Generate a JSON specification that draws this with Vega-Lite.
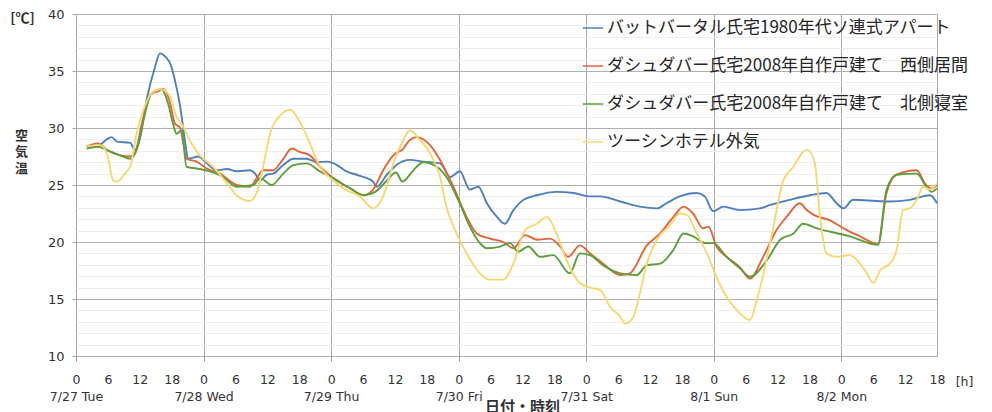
{
  "$schema": "https://vega.github.io/schema/vega-lite/v6.json",
  "width": 861,
  "height": 342,
  "autosize": "none",
  "padding": {"left": 76, "top": 14, "right": 55, "bottom": 56},
  "background": "white",
  "config": {
    "view": {"stroke": "#a8a8a8", "strokeWidth": 1},
    "font": "DejaVu Sans"
  },
  "title": {
    "text": "日付・時刻",
    "orient": "bottom",
    "anchor": "middle",
    "frame": "group",
    "offset": -3,
    "dx": 16,
    "font": "Noto Sans CJK JP",
    "fontSize": 15,
    "fontWeight": "bold",
    "color": "#333333"
  },
  "data": {
    "values": [
      {"s":"B","h":2,"t":28.4},{"s":"B","h":4,"t":28.4},{"s":"B","h":5.8,"t":29.0},{"s":"B","h":6.7,"t":29.2},{"s":"B","h":7.7,"t":28.8},{"s":"B","h":10.2,"t":28.7},{"s":"B","h":11.1,"t":28.1},{"s":"B","h":12,"t":29.0},{"s":"B","h":13.3,"t":32.5},{"s":"B","h":14.9,"t":35.4},{"s":"B","h":15.8,"t":36.55},{"s":"B","h":17.1,"t":36.1},{"s":"B","h":17.7,"t":35.7},{"s":"B","h":18.6,"t":34.2},{"s":"B","h":19.6,"t":31.9},{"s":"B","h":20.5,"t":28.9},{"s":"B","h":21.1,"t":27.3},{"s":"B","h":23,"t":27.5},{"s":"B","h":24.6,"t":26.9},{"s":"B","h":26.5,"t":26.3},{"s":"B","h":28.4,"t":26.4},{"s":"B","h":30.2,"t":26.2},{"s":"B","h":32.7,"t":26.3},{"s":"B","h":33.7,"t":26.0},{"s":"B","h":34.6,"t":25.4},{"s":"B","h":35.9,"t":25.9},{"s":"B","h":37.1,"t":26.0},{"s":"B","h":39,"t":26.75},{"s":"B","h":40.9,"t":27.3},{"s":"B","h":43.4,"t":27.3},{"s":"B","h":45.3,"t":27.0},{"s":"B","h":47.2,"t":27.05},{"s":"B","h":49.1,"t":26.75},{"s":"B","h":50.9,"t":26.2},{"s":"B","h":52.8,"t":25.9},{"s":"B","h":54.7,"t":25.6},{"s":"B","h":55.9,"t":25.3},{"s":"B","h":56.6,"t":24.85},{"s":"B","h":58.5,"t":25.9},{"s":"B","h":60.3,"t":26.75},{"s":"B","h":62.8,"t":27.2},{"s":"B","h":65.3,"t":27.05},{"s":"B","h":68.5,"t":26.9},{"s":"B","h":70.4,"t":25.7},{"s":"B","h":72.2,"t":26.2},{"s":"B","h":74.1,"t":24.6},{"s":"B","h":75.7,"t":24.85},{"s":"B","h":77.3,"t":23.4},{"s":"B","h":79.2,"t":22.2},{"s":"B","h":80.7,"t":21.6},{"s":"B","h":82.3,"t":22.8},{"s":"B","h":84.2,"t":23.7},{"s":"B","h":86.7,"t":24.1},{"s":"B","h":90.4,"t":24.4},{"s":"B","h":93.6,"t":24.3},{"s":"B","h":96.7,"t":24.0},{"s":"B","h":98.6,"t":24.0},{"s":"B","h":102.4,"t":23.55},{"s":"B","h":106.1,"t":23.1},{"s":"B","h":109.3,"t":22.95},{"s":"B","h":111.1,"t":23.4},{"s":"B","h":113.6,"t":24.0},{"s":"B","h":116.8,"t":24.3},{"s":"B","h":118.3,"t":24.0},{"s":"B","h":119.9,"t":22.7},{"s":"B","h":121.8,"t":23.1},{"s":"B","h":124.9,"t":22.8},{"s":"B","h":128.7,"t":22.95},{"s":"B","h":130.6,"t":23.25},{"s":"B","h":134.3,"t":23.7},{"s":"B","h":138.1,"t":24.1},{"s":"B","h":141.2,"t":24.3},{"s":"B","h":143.1,"t":23.4},{"s":"B","h":144.4,"t":22.95},{"s":"B","h":146.2,"t":23.7},{"s":"B","h":150.6,"t":23.6},{"s":"B","h":153.1,"t":23.55},{"s":"B","h":156.9,"t":23.7},{"s":"B","h":160.7,"t":24.1},{"s":"B","h":162,"t":23.4},

      {"s":"O","h":2,"t":28.4},{"s":"O","h":4.2,"t":28.65},{"s":"O","h":5.8,"t":28.07},{"s":"O","h":8.3,"t":27.6},{"s":"O","h":10.2,"t":27.5},{"s":"O","h":11.1,"t":27.8},{"s":"O","h":12.4,"t":30.4},{"s":"O","h":13.9,"t":32.9},{"s":"O","h":15.8,"t":33.3},{"s":"O","h":16.4,"t":33.45},{"s":"O","h":17.7,"t":32.2},{"s":"O","h":18.6,"t":30.4},{"s":"O","h":19.6,"t":30.0},{"s":"O","h":20.8,"t":27.3},{"s":"O","h":22.7,"t":27.05},{"s":"O","h":24.6,"t":26.45},{"s":"O","h":27.1,"t":26.0},{"s":"O","h":30.2,"t":25.0},{"s":"O","h":32.7,"t":24.85},{"s":"O","h":34,"t":25.6},{"s":"O","h":35.2,"t":26.3},{"s":"O","h":37.1,"t":26.3},{"s":"O","h":39,"t":27.3},{"s":"O","h":40.6,"t":28.2},{"s":"O","h":42.1,"t":27.9},{"s":"O","h":44,"t":27.6},{"s":"O","h":45.9,"t":26.6},{"s":"O","h":48.4,"t":25.6},{"s":"O","h":51.6,"t":24.7},{"s":"O","h":54.1,"t":24.1},{"s":"O","h":55.9,"t":24.6},{"s":"O","h":57.8,"t":26.3},{"s":"O","h":59.7,"t":27.6},{"s":"O","h":61.6,"t":28.2},{"s":"O","h":62.8,"t":28.95},{"s":"O","h":64.1,"t":29.2},{"s":"O","h":66.6,"t":28.5},{"s":"O","h":68.5,"t":27.2},{"s":"O","h":71,"t":24.85},{"s":"O","h":73.5,"t":22.2},{"s":"O","h":75.4,"t":20.75},{"s":"O","h":77.9,"t":20.3},{"s":"O","h":80.4,"t":20.0},{"s":"O","h":82.3,"t":19.45},{"s":"O","h":84.5,"t":20.6},{"s":"O","h":86.7,"t":20.2},{"s":"O","h":89.2,"t":20.3},{"s":"O","h":91.1,"t":19.6},{"s":"O","h":92.6,"t":18.7},{"s":"O","h":94.8,"t":19.7},{"s":"O","h":96.7,"t":19.0},{"s":"O","h":99.2,"t":18.1},{"s":"O","h":102.4,"t":17.1},{"s":"O","h":104.2,"t":17.25},{"s":"O","h":107.4,"t":19.7},{"s":"O","h":109.9,"t":20.75},{"s":"O","h":112.4,"t":22.2},{"s":"O","h":114.3,"t":23.1},{"s":"O","h":116.1,"t":22.5},{"s":"O","h":118,"t":21.2},{"s":"O","h":119,"t":21.35},{"s":"O","h":120.5,"t":19.6},{"s":"O","h":122.4,"t":18.7},{"s":"O","h":124.9,"t":17.8},{"s":"O","h":126.8,"t":16.8},{"s":"O","h":129.3,"t":18.7},{"s":"O","h":131.8,"t":21.05},{"s":"O","h":133.7,"t":22.2},{"s":"O","h":136.2,"t":23.4},{"s":"O","h":137.5,"t":22.8},{"s":"O","h":138.7,"t":22.4},{"s":"O","h":141.9,"t":21.9},{"s":"O","h":144.4,"t":21.2},{"s":"O","h":147.5,"t":20.5},{"s":"O","h":150.9,"t":19.8},{"s":"O","h":152.5,"t":24.3},{"s":"O","h":154.4,"t":25.9},{"s":"O","h":158.2,"t":26.3},{"s":"O","h":159.7,"t":25.15},{"s":"O","h":161,"t":24.7},{"s":"O","h":162,"t":25.0},

      {"s":"G","h":2,"t":28.2},{"s":"G","h":4.2,"t":28.36},{"s":"G","h":5.8,"t":28.07},{"s":"G","h":8.3,"t":27.6},{"s":"G","h":10.2,"t":27.3},{"s":"G","h":11.4,"t":28.07},{"s":"G","h":12.7,"t":30.7},{"s":"G","h":14.2,"t":33.05},{"s":"G","h":16.1,"t":33.4},{"s":"G","h":17.3,"t":32.2},{"s":"G","h":18.3,"t":30.3},{"s":"G","h":18.9,"t":29.5},{"s":"G","h":19.9,"t":29.8},{"s":"G","h":20.8,"t":26.6},{"s":"G","h":22.7,"t":26.45},{"s":"G","h":25.2,"t":26.2},{"s":"G","h":27.7,"t":25.7},{"s":"G","h":30.2,"t":24.85},{"s":"G","h":33.4,"t":25.0},{"s":"G","h":34.6,"t":25.6},{"s":"G","h":36.8,"t":25.0},{"s":"G","h":39,"t":26.0},{"s":"G","h":40.9,"t":26.75},{"s":"G","h":43.4,"t":26.9},{"s":"G","h":45.9,"t":26.2},{"s":"G","h":48.4,"t":25.6},{"s":"G","h":51.6,"t":24.7},{"s":"G","h":54.1,"t":24.1},{"s":"G","h":56.3,"t":24.4},{"s":"G","h":58.5,"t":25.4},{"s":"G","h":60.2,"t":26.1},{"s":"G","h":61.4,"t":25.3},{"s":"G","h":63.5,"t":26.3},{"s":"G","h":65.3,"t":27.0},{"s":"G","h":67.9,"t":26.6},{"s":"G","h":69.7,"t":25.7},{"s":"G","h":72.2,"t":23.4},{"s":"G","h":74.1,"t":21.35},{"s":"G","h":76,"t":19.9},{"s":"G","h":77.3,"t":19.45},{"s":"G","h":79.8,"t":19.6},{"s":"G","h":81.7,"t":19.9},{"s":"G","h":83.2,"t":19.15},{"s":"G","h":85.1,"t":19.6},{"s":"G","h":87.3,"t":18.7},{"s":"G","h":89.8,"t":18.85},{"s":"G","h":92.9,"t":17.25},{"s":"G","h":94.8,"t":19.0},{"s":"G","h":96.7,"t":18.85},{"s":"G","h":99.2,"t":17.95},{"s":"G","h":102.4,"t":17.25},{"s":"G","h":105.5,"t":17.1},{"s":"G","h":107.4,"t":17.95},{"s":"G","h":109.9,"t":18.1},{"s":"G","h":112.4,"t":19.3},{"s":"G","h":114.3,"t":20.75},{"s":"G","h":116.1,"t":20.5},{"s":"G","h":118.5,"t":19.9},{"s":"G","h":119.9,"t":19.9},{"s":"G","h":122.4,"t":18.7},{"s":"G","h":124.9,"t":17.7},{"s":"G","h":126.8,"t":16.95},{"s":"G","h":130,"t":18.4},{"s":"G","h":132.5,"t":20.2},{"s":"G","h":135,"t":20.75},{"s":"G","h":136.8,"t":21.6},{"s":"G","h":139.4,"t":21.2},{"s":"G","h":141.9,"t":20.9},{"s":"G","h":145.6,"t":20.5},{"s":"G","h":150.9,"t":19.75},{"s":"G","h":152.5,"t":24.55},{"s":"G","h":154.4,"t":25.9},{"s":"G","h":158.2,"t":26.0},{"s":"G","h":160,"t":24.85},{"s":"G","h":161,"t":24.4},{"s":"G","h":162,"t":24.7},

      {"s":"Y","h":2,"t":28.4},{"s":"Y","h":4.5,"t":28.5},{"s":"Y","h":5.8,"t":27.8},{"s":"Y","h":7,"t":25.4},{"s":"Y","h":7.7,"t":25.3},{"s":"Y","h":9.2,"t":26.0},{"s":"Y","h":10.2,"t":26.6},{"s":"Y","h":11.4,"t":29.5},{"s":"Y","h":12.7,"t":31.6},{"s":"Y","h":14.2,"t":33.05},{"s":"Y","h":16.1,"t":33.4},{"s":"Y","h":17.7,"t":32.75},{"s":"Y","h":18.9,"t":31.0},{"s":"Y","h":20.2,"t":30.1},{"s":"Y","h":21.4,"t":28.9},{"s":"Y","h":23.3,"t":27.6},{"s":"Y","h":25.8,"t":26.6},{"s":"Y","h":28.4,"t":25.15},{"s":"Y","h":30.2,"t":24.1},{"s":"Y","h":32.7,"t":23.6},{"s":"Y","h":34,"t":24.3},{"s":"Y","h":35.2,"t":26.6},{"s":"Y","h":36.5,"t":29.5},{"s":"Y","h":38.4,"t":31.1},{"s":"Y","h":40.3,"t":31.6},{"s":"Y","h":42.1,"t":30.55},{"s":"Y","h":44,"t":28.65},{"s":"Y","h":45.9,"t":26.6},{"s":"Y","h":48.4,"t":25.4},{"s":"Y","h":50.9,"t":24.55},{"s":"Y","h":53.4,"t":24.0},{"s":"Y","h":55.9,"t":22.95},{"s":"Y","h":57.8,"t":24.0},{"s":"Y","h":59.7,"t":26.9},{"s":"Y","h":61.6,"t":28.95},{"s":"Y","h":62.8,"t":29.8},{"s":"Y","h":64.7,"t":28.95},{"s":"Y","h":66.6,"t":27.8},{"s":"Y","h":68.5,"t":25.7},{"s":"Y","h":69.7,"t":23.1},{"s":"Y","h":71.6,"t":20.75},{"s":"Y","h":73.5,"t":19.0},{"s":"Y","h":76,"t":17.25},{"s":"Y","h":77.9,"t":16.7},{"s":"Y","h":80.4,"t":16.7},{"s":"Y","h":82.3,"t":18.1},{"s":"Y","h":84.5,"t":21.05},{"s":"Y","h":86.7,"t":21.6},{"s":"Y","h":88.6,"t":22.2},{"s":"Y","h":90.4,"t":20.75},{"s":"Y","h":92.3,"t":18.4},{"s":"Y","h":94.8,"t":16.4},{"s":"Y","h":96.7,"t":16.0},{"s":"Y","h":98.6,"t":15.8},{"s":"Y","h":100.5,"t":14.3},{"s":"Y","h":102.4,"t":13.45},{"s":"Y","h":103.3,"t":12.85},{"s":"Y","h":104.9,"t":13.45},{"s":"Y","h":106.1,"t":15.5},{"s":"Y","h":107.4,"t":18.1},{"s":"Y","h":109.3,"t":20.2},{"s":"Y","h":111.8,"t":21.5},{"s":"Y","h":113.6,"t":22.5},{"s":"Y","h":114.9,"t":22.4},{"s":"Y","h":116.8,"t":20.75},{"s":"Y","h":118.7,"t":19.0},{"s":"Y","h":120.5,"t":16.95},{"s":"Y","h":122.4,"t":15.2},{"s":"Y","h":124.9,"t":13.75},{"s":"Y","h":126.8,"t":13.15},{"s":"Y","h":128.1,"t":14.9},{"s":"Y","h":130.6,"t":19.9},{"s":"Y","h":133.1,"t":25.4},{"s":"Y","h":135,"t":26.6},{"s":"Y","h":136.8,"t":27.9},{"s":"Y","h":137.6,"t":28.1},{"s":"Y","h":139,"t":26.9},{"s":"Y","h":140,"t":22.2},{"s":"Y","h":141.2,"t":19.0},{"s":"Y","h":143.1,"t":18.7},{"s":"Y","h":145.6,"t":18.85},{"s":"Y","h":147.5,"t":18.1},{"s":"Y","h":148.8,"t":17.25},{"s":"Y","h":150,"t":16.4},{"s":"Y","h":151.3,"t":17.5},{"s":"Y","h":153.1,"t":18.1},{"s":"Y","h":154.4,"t":19.3},{"s":"Y","h":155.6,"t":22.8},{"s":"Y","h":156.9,"t":22.95},{"s":"Y","h":158.2,"t":23.7},{"s":"Y","h":159.4,"t":24.85},{"s":"Y","h":160.7,"t":24.6},{"s":"Y","h":162,"t":25.15}
    ]
  },
  "layer": [
    {
      "mark": {"type": "line", "strokeWidth": 1.9, "interpolate": "monotone"},
      "encoding": {
        "x": {
          "field": "h",
          "type": "quantitative",
          "scale": {"domain": [0, 162], "nice": false, "zero": false},
          "axis": {
            "values": [0,6,12,18,24,30,36,42,48,54,60,66,72,78,84,90,96,102,108,114,120,126,132,138,144,150,156,162],
            "labelExpr": "datum.value % 24 === 0 ? [format(datum.value % 24, 'd'), ['7/27 Tue','7/28 Wed','7/29 Thu','7/30 Fri','7/31 Sat','8/1 Sun','8/2 Mon'][floor(datum.value / 24)]] : format(datum.value % 24, 'd')",
            "labelFont": "DejaVu Sans",
            "labelFontSize": 12.5,
            "labelColor": "#333333",
            "labelLineHeight": 17,
            "labelPadding": 12,
            "labelOverlap": false,
            "labelFlush": false,
            "labelBound": false,
            "domain": false,
            "tickSize": 5,
            "tickColor": "#999999",
            "tickOpacity": {"condition": {"test": "datum.value % 24 === 0", "value": 1}, "value": 0},
            "grid": true,
            "gridColor": "#a8a8a8",
            "gridOpacity": {"condition": {"test": "datum.value % 24 === 0", "value": 1}, "value": 0},
            "title": "[h]",
            "titleX": 888,
            "titleY": 19,
            "titleAlign": "center",
            "titleBaseline": "top",
            "titleFont": "DejaVu Sans",
            "titleFontSize": 12.5,
            "titleFontWeight": "normal",
            "titleColor": "#333333"
          }
        },
        "y": {
          "field": "t",
          "type": "quantitative",
          "scale": {"domain": [10, 40], "nice": false, "zero": false},
          "axis": {
            "orient": "left",
            "values": [10,11,12,13,14,15,16,17,18,19,20,21,22,23,24,25,26,27,28,29,30,31,32,33,34,35,36,37,38,39,40],
            "labelExpr": "datum.value % 5 === 0 ? format(datum.value, 'd') : ''",
            "labelFont": "DejaVu Sans",
            "labelFontSize": 13,
            "labelColor": "#333333",
            "labelPadding": 8,
            "domain": false,
            "tickSize": 4,
            "tickColor": "#a8a8a8",
            "tickOpacity": {"condition": {"test": "datum.value % 5 === 0", "value": 1}, "value": 0},
            "grid": true,
            "gridColor": {"condition": {"test": "datum.value % 5 === 0", "value": "#b0b0b0"}, "value": "#eeeeee"},
            "title": "[℃]",
            "titleAngle": 0,
            "titleX": -54,
            "titleY": -3,
            "titleAlign": "center",
            "titleBaseline": "top",
            "titleFont": "Noto Sans CJK JP",
            "titleFontSize": 14,
            "titleFontWeight": "bold",
            "titleColor": "#333333"
          }
        },
        "color": {
          "field": "s",
          "type": "nominal",
          "scale": {"domain": ["B", "O", "G", "Y"], "range": ["#4f7fbf", "#e5653a", "#5c9f3c", "#f6d873"]},
          "legend": {
            "orient": "none",
            "legendX": 506,
            "legendY": 3,
            "title": null,
            "symbolType": "stroke",
            "symbolSize": 420,
            "symbolStrokeWidth": 1.5,
            "rowPadding": 19,
            "labelOffset": 3,
            "labelFont": "Noto Sans CJK JP",
            "labelFontSize": 17,
            "labelColor": "#262626",
            "labelLimit": 600,
            "labelExpr": "{'B': 'バットバータル氏宅1980年代ソ連式アパート', 'O': 'ダシュダバー氏宅2008年自作戸建て　西側居間', 'G': 'ダシュダバー氏宅2008年自作戸建て　北側寝室', 'Y': 'ツーシンホテル外気'}[datum.label]"
          }
        }
      }
    },
    {
      "mark": {"type": "rule", "strokeOpacity": 0},
      "encoding": {
        "y": {
          "aggregate": "max",
          "field": "t",
          "type": "quantitative",
          "axis": {
            "orient": "left",
            "labels": false,
            "ticks": false,
            "grid": false,
            "domain": false,
            "title": ["空", "気", "温"],
            "titleAngle": 0,
            "titleX": -55,
            "titleY": 115,
            "titleAlign": "center",
            "titleBaseline": "top",
            "titleLineHeight": 16.5,
            "titleFont": "Noto Sans CJK JP",
            "titleFontSize": 13,
            "titleFontWeight": "bold",
            "titleColor": "#333333"
          }
        }
      }
    }
  ],
  "resolve": {"axis": {"y": "independent"}}
}
